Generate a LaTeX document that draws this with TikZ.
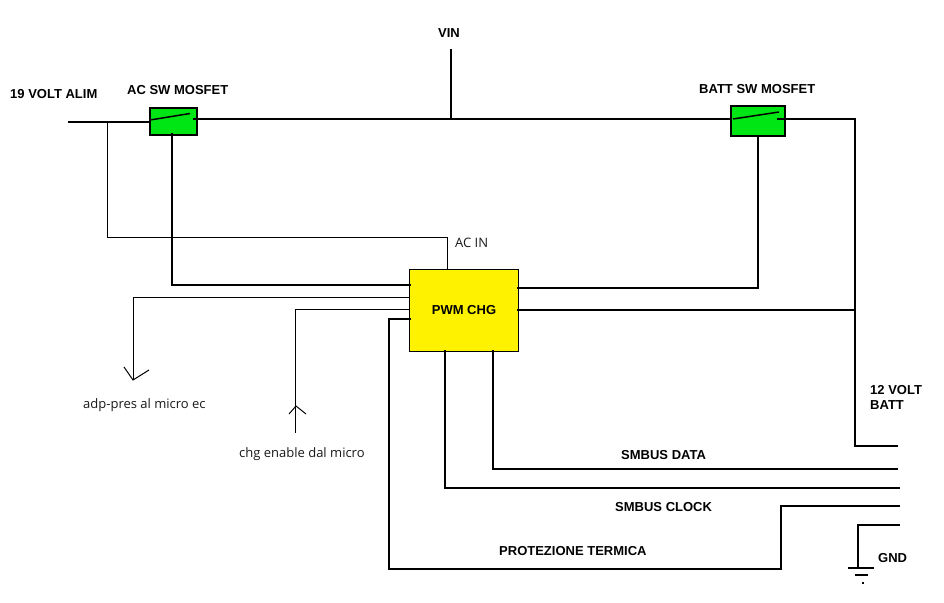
\documentclass[tikz,border=0pt]{standalone}
\usepackage{fontspec}
\setmainfont{Liberation Sans}
\newfontfamily\thinfont{Open Sans}
\definecolor{mosgreen}{RGB}{0,230,20}
\tikzset{
  thick wire/.style={draw=black,line width=2pt,line cap=rect,line join=miter},
  thin wire/.style={draw=black,line width=1pt},
  mosfet/.style={draw=black,line width=2pt,fill=mosgreen,inner sep=0pt,minimum width=#1,minimum height=27pt},
  chg box/.style={draw=black,line width=1pt,fill=yellow,inner sep=0pt,minimum width=109pt,minimum height=82pt,font=\bfseries\fontsize{13}{15}\selectfont},
  bold label/.style={font=\bfseries\fontsize{13}{15}\selectfont,inner sep=0pt},
  thin label/.style={font=\thinfont\fontsize{13}{15}\selectfont,inner sep=0pt,text=black!90},
  ground/.style={draw=black,line width=1.5pt}
}
\begin{document}
\begin{tikzpicture}[x=1pt,y=-1pt]
\useasboundingbox (0,0) rectangle (944,602);
\fill[white] (0,0) rectangle (944,602);
% boxes
\node[mosfet=47pt] (ac) at (173.5,121) {};
\node[mosfet=54pt,minimum height=30pt] (batt) at (758,121) {};
\node[chg box] (pwm) at (464,310.5) {\raisebox{2pt}{PWM CHG}};
% free ends and corners
\coordinate (in) at (69,122);
\coordinate (acL) at (150,122);
\coordinate (acR) at (197,119);
\coordinate (bL) at (731,119);
\coordinate (bR) at (785,119);
\coordinate (corner) at (854.5,119);
\coordinate (vintop) at (451,50);
\coordinate (vinbot) at (451,119);
\coordinate (tapac) at (107,122);
\coordinate (acinE) at (447,270);
\coordinate (pL1) at (410,285);
\coordinate (pR1) at (518,288);
\coordinate (pR2) at (518,310);
\coordinate (bjoin) at (854.5,310);
\coordinate (batEnd) at (897,445.5);
\coordinate (adpS) at (410,297);
\coordinate (adpE) at (133,380);
\coordinate (enS) at (410,309);
\coordinate (enE) at (295,433);
\coordinate (thS) at (410,319);
\coordinate (thB) at (389,569);
\coordinate (thE) at (781,569);
\coordinate (thT) at (899,505.5);
\coordinate (dS) at (493,351);
\coordinate (dE) at (897,469);
\coordinate (cS) at (445,351);
\coordinate (cE) at (899,488);
\coordinate (gR) at (899,525);
\coordinate (gB) at (858,568);
% thick wires
\draw[thick wire] (in) -- (acL);
\draw[thick wire] (acR) -- (bL);
\draw[thick wire] (bR) -- (corner) -- (bjoin) |- (batEnd);
\draw[thick wire] (vintop) -- (vinbot);
\draw[thick wire] (172,134) -- (172,285) -- (pL1);
\draw[thick wire] (batt.south) |- (pR1);
\draw[thick wire] (pR2) -- (bjoin);
\draw[thick wire] (thS) -| (thB) -- (thE) |- (thT);
\draw[thick wire] (dS) |- (dE);
\draw[thick wire] (cS) |- (cE);
\draw[thick wire] (gR) -- (858,525) -- (gB);
% switch blades
\draw[line width=1.5pt] (acL)++(0,-2) -- (190,113.5);
\draw[line width=1.5pt] (733,119) -- (779,112);
\draw[line width=1.5pt] (acR) -- (193,119);
\draw[line width=1.5pt] (bR) -- (777,119);
% thin wires
\draw[thin wire] (tapac) |- (acinE |- 0,237) -- (acinE);
\draw[thin wire] (adpS) -- (133,297) -- (adpE);
\draw[thin wire] (124,367) -- (adpE) -- (149,370);
\draw[thin wire] (enS) -- (295,309) -- (enE);
\draw[thin wire] (289,414) -- (296,406) -- (306,414);
% ground
\draw[ground] (848,568) -- (874,568);
\draw[ground] (855,575) -- (868,575);
\fill (862,582) rectangle (864,584);
% labels
\node[bold label,anchor=west] (l19) at (10,94) {19 VOLT ALIM};
\node[bold label,anchor=west] (lac) at (127,90) {AC SW MOSFET};
\node[bold label,anchor=west] (lvin) at (438,33) {VIN};
\node[bold label,anchor=west] (lb) at (699,89) {BATT SW MOSFET};
\node[thin label,anchor=west] (lacin) at (455,243) {AC IN};
\node[thin label,anchor=west] (ladp) at (83,405) {adp-pres al micro ec};
\node[thin label,anchor=west] (len) at (239,454) {chg enable dal micro};
\node[bold label,anchor=west,align=left] (l12) at (870,397) {12 VOLT\\BATT};
\node[bold label,anchor=west] (ld) at (621,455) {SMBUS DATA};
\node[bold label,anchor=west] (lc) at (615,507) {SMBUS CLOCK};
\node[bold label,anchor=west] (lt) at (499,551) {PROTEZIONE TERMICA};
\node[bold label,anchor=west] (lg) at (878,558) {GND};
\end{tikzpicture}
\end{document}
